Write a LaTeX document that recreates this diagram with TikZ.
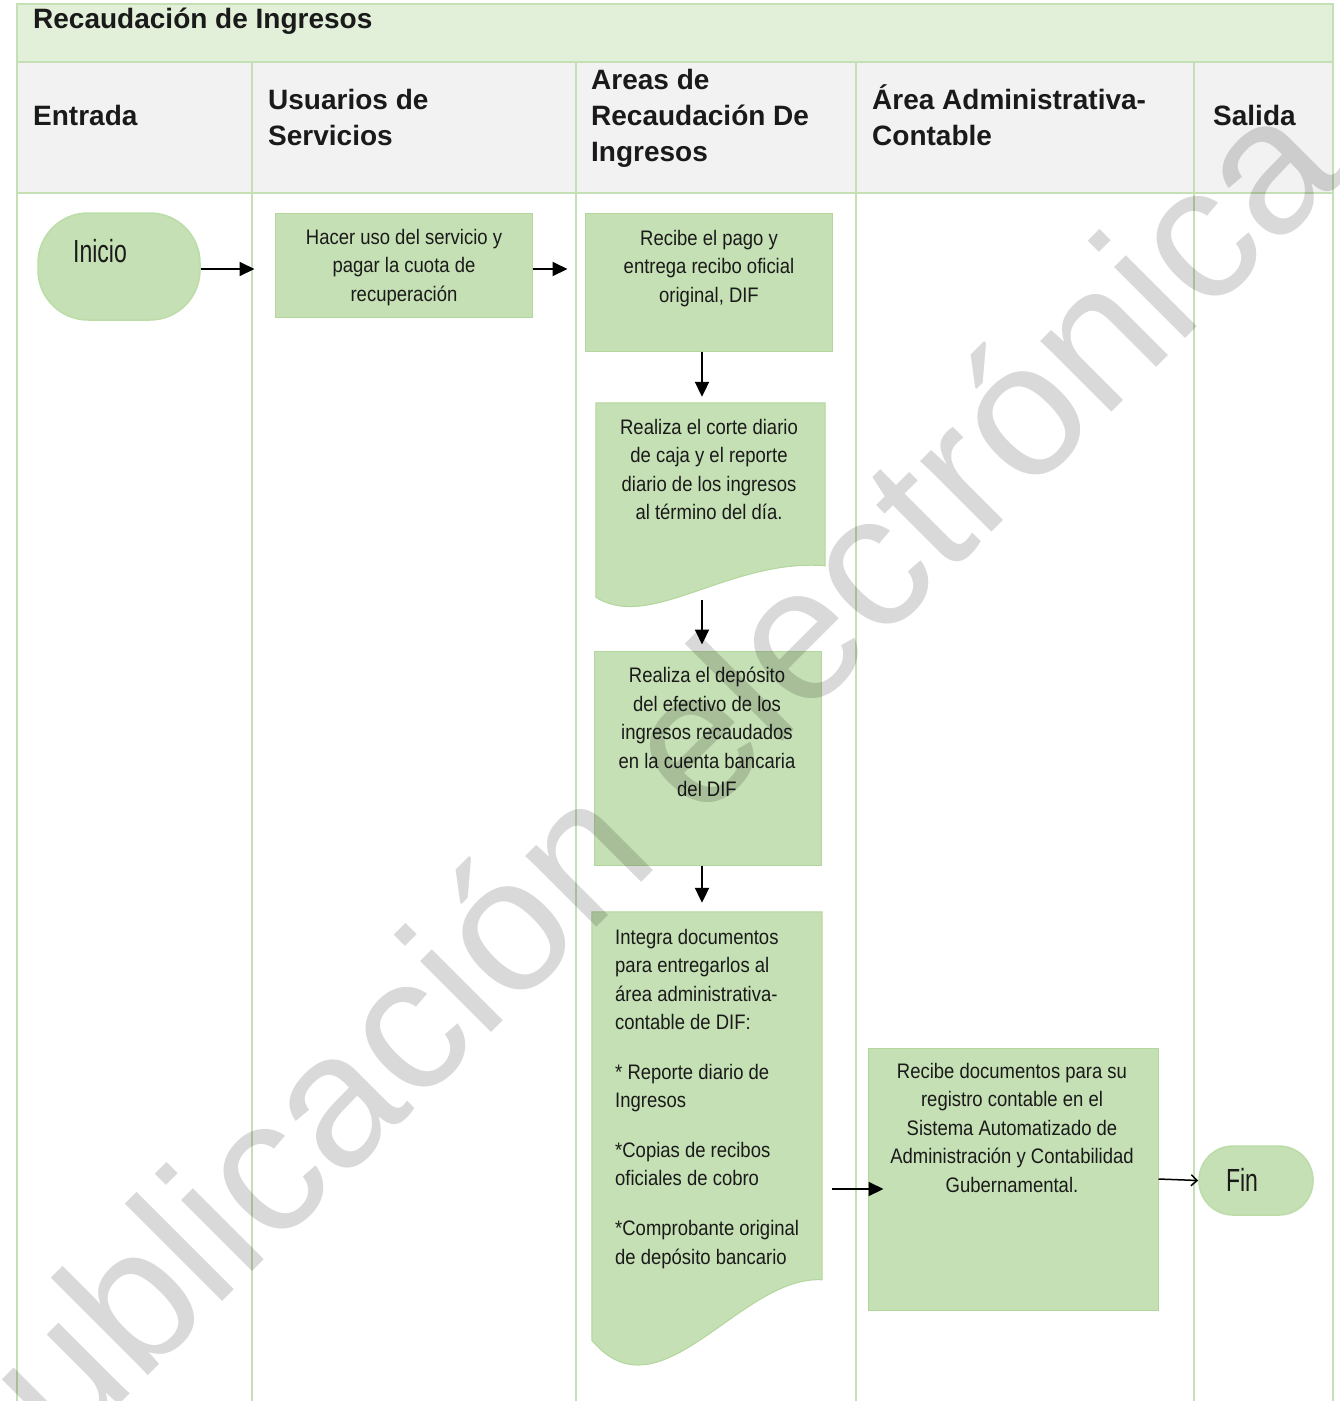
\documentclass[tikz,border=0pt]{standalone}
\usepackage{fontspec}
\setmainfont{Liberation Sans}
\newfontfamily\boxsans[FakeStretch=0.88]{Liberation Sans}
\newfontfamily\termsans[FakeStretch=0.72]{Liberation Sans}
\usetikzlibrary{arrows.meta,calc}
\definecolor{laneline}{HTML}{C5E0B4}
\definecolor{titlefill}{HTML}{E2EFD9}
\definecolor{headfill}{HTML}{F2F2F2}
\definecolor{boxfill}{HTML}{C5E0B4}
\definecolor{boxline}{HTML}{B2D69C}
\definecolor{termline}{HTML}{BCDCA8}
\definecolor{ink}{HTML}{1A1A1A}
\begin{document}
\begin{tikzpicture}[x=1pt,y=-1pt,
  hdr/.style={anchor=base west, inner sep=0pt, text=ink,
    font=\fontsize{28}{34}\selectfont\bfseries},
  proc/.style={draw=boxline, fill=boxfill, line width=1pt, inner sep=0pt},
  term/.style={draw=termline, fill=boxfill, line width=1.5pt, inner sep=0pt},
  txt/.style={inner sep=0pt, text=ink, align=center,
    font=\boxsans\fontsize{21}{28.5}\selectfont},
  termtxt/.style={inner sep=0pt, text=ink, font=\termsans\fontsize{32}{34}\selectfont},
  arr/.style={line width=2pt, draw=black, -{Triangle[length=15pt,width=14pt]}},
  thinarr/.style={line width=1.5pt, draw=black, -{Straight Barb[length=6pt,width=11pt]}},
  lane/.style={draw=laneline, line width=2pt}
]
\useasboundingbox (0,0) rectangle (1340,1401);

% --- swimlane frame ---
\fill[titlefill] (17,4) rectangle (1333,62);
\fill[headfill] (17,62) rectangle (1333,193);
\draw[lane] (17,1401) -- (17,4) -- (1333,4) -- (1333,1401);
\draw[lane] (17,62) -- (1333,62);
\draw[lane] (17,193) -- (1333,193);
\foreach \lx in {252,576,856,1194} \draw[lane] (\lx,62) -- (\lx,1401);

% --- title and lane headers ---
\node[hdr] (title) at (33,28) {Recaudación de Ingresos};
\node[hdr] (h1) at (33,125) {Entrada};
\node[hdr] (h2a) at (268,109) {Usuarios de};
\node[hdr] (h2b) at (268,145) {Servicios};
\node[hdr] (h3a) at (591,89) {Areas de};
\node[hdr] (h3b) at (591,125) {Recaudación De};
\node[hdr] (h3c) at (591,161) {Ingresos};
\node[hdr] (h4a) at (872,109) {Área Administrativa-};
\node[hdr] (h4b) at (872,145) {Contable};
\node[hdr] (h5) at (1213,125) {Salida};

% --- start / end terminals ---
\node[term, minimum width=162pt, minimum height=107pt, rounded corners=50pt] (inicio) at (119,266.5) {};
\node[termtxt] (inicio-t) at (100,251) {Inicio};
\node[term, minimum width=114pt, minimum height=69pt, rounded corners=34pt] (fin) at (1256,1180.5) {};
\node[termtxt] (fin-t) at (1242,1180) {Fin};

% --- process boxes ---
\node[proc, minimum width=257pt, minimum height=104pt] (hacer) at (403.5,265) {};
\node[txt, anchor=north] (hacer-t) at (404,229)
  {Hacer uso del servicio y\\pagar la cuota de\\recuperación};

\node[proc, minimum width=247pt, minimum height=138pt] (recibe) at (708.5,282) {};
\node[txt, anchor=north] (recibe-t) at (709,230)
  {Recibe el pago y\\entrega recibo oficial\\original, DIF};

% document shape: daily cut
\node[inner sep=0pt, minimum width=229pt, minimum height=194pt] (corte) at (710.5,500) {};
\path[fill=boxfill, draw=boxline, line width=1pt]
  (corte.north west) -- (corte.north east) -- ($(corte.north east)+(0,163)$)
  .. controls (730,558) and (650,632) .. (corte.south west) -- cycle;
\node[txt, anchor=north] (corte-t) at (709,419)
  {Realiza el corte diario\\de caja y el reporte\\diario de los ingresos\\al término del día.};

\node[proc, minimum width=227pt, minimum height=214pt] (deposito) at (707.5,758) {};
\node[txt, anchor=north] (deposito-t) at (707,667)
  {Realiza el depósito\\del efectivo de los\\ingresos recaudados\\en la cuenta bancaria\\del DIF};

% document shape: documents handed over
\node[inner sep=0pt, minimum width=230pt, minimum height=428pt] (integra) at (707,1126) {};
\path[fill=boxfill, draw=boxline, line width=1pt]
  (integra.north west) -- (integra.north east) -- ($(integra.north east)+(0,368)$)
  .. controls (740,1275) and (660,1422) .. (integra.south west) -- cycle;
\node[txt, align=left, anchor=north west] (integra-t) at (615,929)
  {Integra documentos\\para entregarlos al\\área administrativa-\\contable de DIF:\\[21pt]
   * Reporte diario de\\Ingresos\\[21pt]
   *Copias de recibos\\oficiales de cobro\\[21.5pt]
   *Comprobante original\\de depósito bancario};

\node[proc, minimum width=290pt, minimum height=262pt] (registro) at (1013,1179) {};
\node[txt, anchor=north] (registro-t) at (1012,1063)
  {Recibe documentos para su\\registro contable en el\\Sistema Automatizado de\\Administración y Contabilidad\\Gubernamental.};

% --- connectors ---
\coordinate (s1) at ($(inicio.east)+(0,2.5)$);
\draw[arr, shorten >=20pt] (s1) -- (s1 -| hacer.west);
\coordinate (s2) at ($(hacer.east)+(0,4)$);
\draw[arr, shorten >=17pt] (s2) -- (s2 -| recibe.west);
\draw[arr] ($(recibe.south)+(-6.5,0)$) -- ($(corte.north)+(-8.5,-6)$);
\draw[arr] ($(corte.south)+(-8.5,3)$) -- ($(deposito.north)+(-5.5,-6)$);
\draw[arr] ($(deposito.south)+(-5.5,0)$) -- ($(integra.north)+(-5,-9)$);
\draw[arr] ($(integra.east)+(10,63)$) -- ($(registro.west)+(16,10)$);
\draw[thinarr] (registro.east) -- (fin.west);

% --- watermark ---
\node[anchor=base, rotate=45, inner sep=0pt, text=black, text opacity=0.15,
  font=\fontsize{190}{190}\selectfont] (marca) at (662,862) {Publicación electrónica};
\end{tikzpicture}
\end{document}
